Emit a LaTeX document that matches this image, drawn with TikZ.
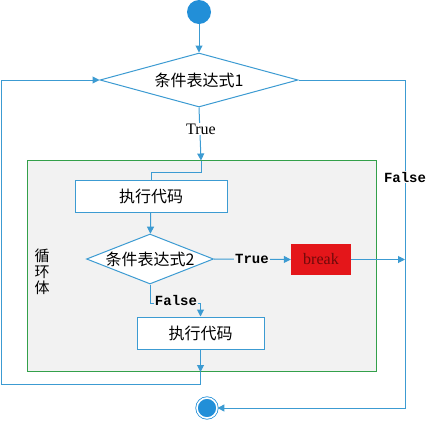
\documentclass[tikz,border=0pt]{standalone}
\usepackage{fontspec}
\setmainfont{Liberation Serif}
\setmonofont{Liberation Mono}
\newfontfamily\cjk{Noto Sans CJK SC}
\usetikzlibrary{shapes.geometric,arrows.meta,positioning}

\definecolor{flowblue}{RGB}{60,155,210}
\definecolor{dotblue}{RGB}{34,143,216}
\definecolor{loopgreen}{RGB}{51,160,74}
\definecolor{loopgray}{RGB}{242,242,242}
\definecolor{breakred}{RGB}{228,22,26}
\definecolor{breakdark}{RGB}{110,10,10}

\tikzset{
  line/.style={draw=flowblue, line width=1pt},
  arrow/.style={line, -{Triangle[length=7pt,width=7pt]}},
  cond/.style={diamond, draw=flowblue, line width=1pt, fill=white, inner sep=0pt,
    font=\cjk\fontsize{16}{18}\selectfont},
  task/.style={rectangle, draw=flowblue, line width=1pt, fill=white,
    minimum height=32pt, font=\cjk\fontsize{16}{18}\selectfont},
  answer/.style={font=\ttfamily\bfseries\fontsize{14}{16}\selectfont, inner sep=1pt}
}

\begin{document}
\begin{tikzpicture}[x=1pt,y=-1pt]

	\useasboundingbox (0,0) rectangle (426,421);

	% ---- loop body

	\node (body) at (201.5,266) [draw=loopgreen, line width=1pt, fill=loopgray,
	  minimum width=349pt, minimum height=211pt] {};
	\node (name) at (42,272) [font=\cjk\fontsize{15}{16}\selectfont, align=center,
	  inner sep=0pt] {循\\环\\体};

	% ---- nodes

	\node (start) at (199,12) [circle, fill=dotblue, minimum size=24pt, inner sep=0pt] {};
	\node (cond1) at (199,80) [cond, aspect=3.6, minimum width=198pt, minimum height=54pt] {条件表达式1};
	\node (run1) at (151,196) [task, minimum width=152pt] {执行代码};
	\node (cond2) at (150,259) [cond, aspect=2.54, minimum width=127pt, minimum height=50pt] {条件表达式2};
	\node (stop) at (321,259.5) [fill=breakred, minimum width=60pt, minimum height=31pt,
	  text=breakdark, font=\fontsize{16}{18}\selectfont] {break};
	\node (run2) at (200.5,333) [task, minimum width=127pt] {执行代码};
	\node (end) at (207,408) [circle, fill=dotblue, draw=dotblue, double=white,
	  double distance=1.6pt, line width=0.8pt, minimum size=20pt, inner sep=0pt] {};

	% ---- corner points

	\coordinate (in1) at (201,160.5);
	\coordinate (in2) at (201,172);
	\coordinate (in3) at (run1.north |- in2);
	\coordinate (f1) at (150,303);
	\coordinate (f2) at (run2.north |- f1);
	\coordinate (out1) at (run2.south |- body.south);
	\coordinate (back1) at (run2.south |- 0,384);
	\coordinate (back2) at (1,384);
	\coordinate (back3) at (1,80);
	\coordinate (quit1) at (405,80);
	\coordinate (quit2) at (405,408);
	\coordinate (quit3) at (405,259.5);

	% ---- connectors

	\draw[arrow] (start) -- (cond1);
	\draw[arrow] (cond1.south) -- (in1);
	\node (yes1) at (201,129) [fill=white, inner sep=1pt, font=\fontsize{16}{18}\selectfont] {True};
	\draw[line] (in1) -- (in2) -- (in3) -- (run1.north);
	\draw[arrow] (run1) -- (cond2);
	\draw[arrow] (cond2.east) -- (stop.west);
	\node (yes2) at (252,259) [answer, fill=loopgray] {True};
	\draw[arrow] (stop.east) -- (quit3);
	\draw[arrow] (cond2.south) -- (f1) -- (f2) -- (run2.north);
	\node (no2) at (176,300) [answer, fill=loopgray] {False};
	\draw[arrow] (run2.south) -- (out1);
	\draw[arrow] (out1) -- (back1) -- (back2) -- (back3) -- (cond1.west);
	\draw[arrow] (cond1.east) -- (quit1) -- (quit2) -- (end.east);
	\node (no1) at (405,177) [answer, fill=white] {False};

\end{tikzpicture}
\end{document}
